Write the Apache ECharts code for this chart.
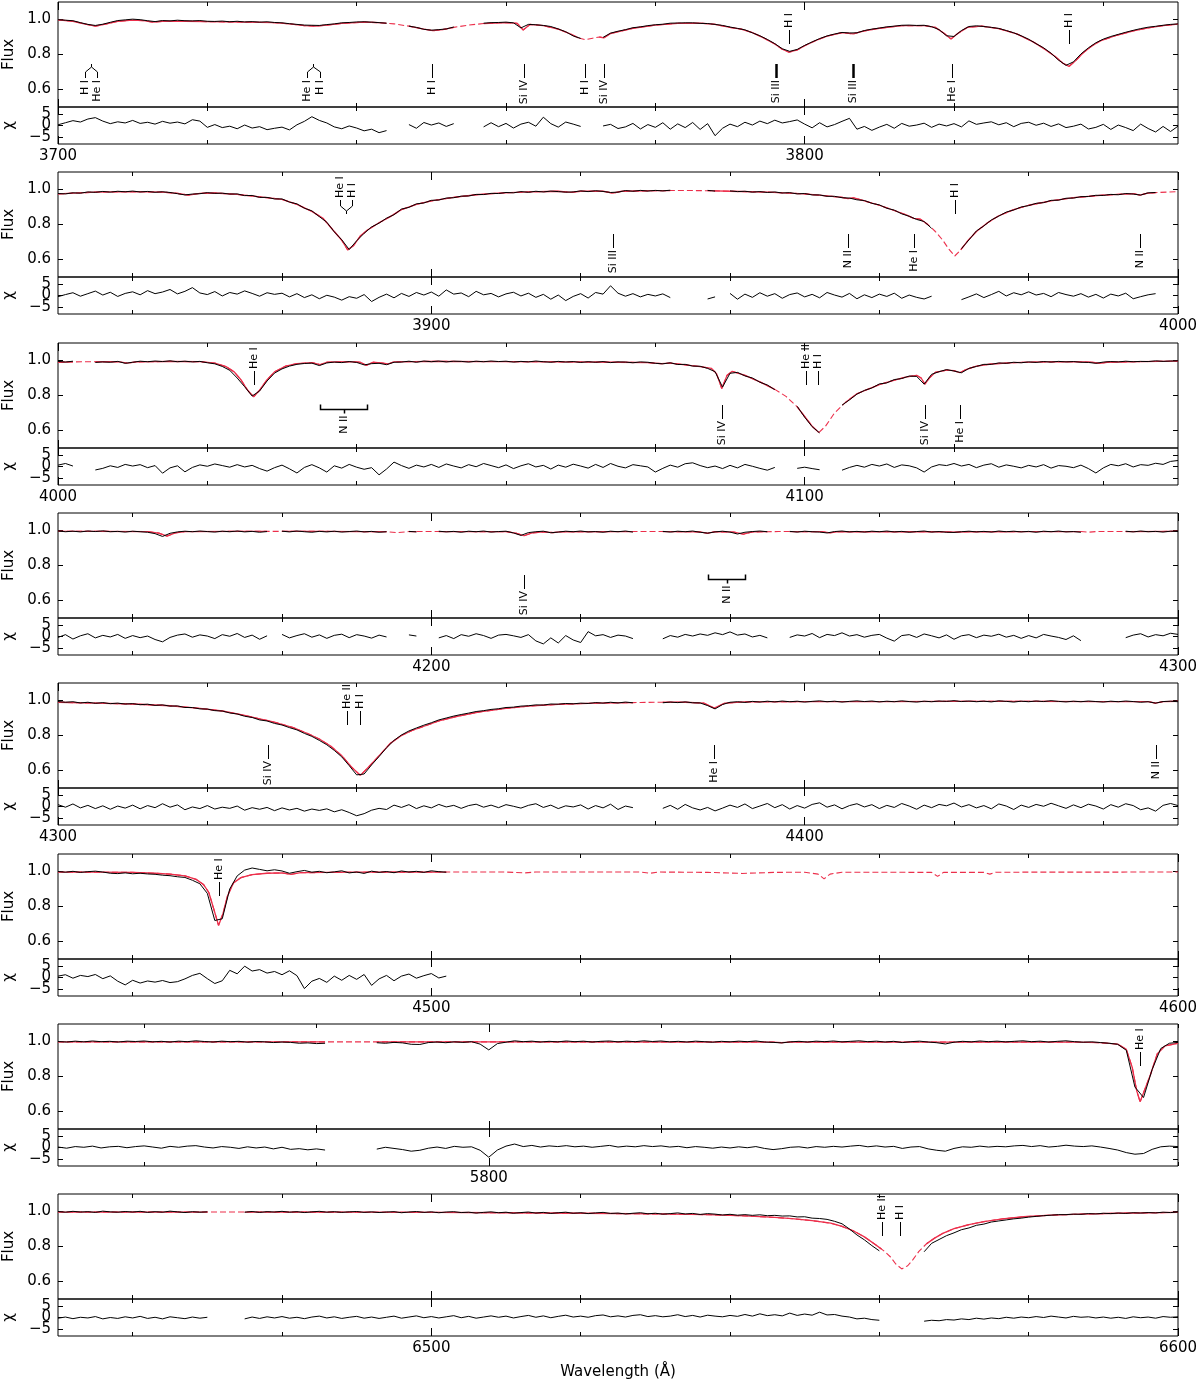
<!DOCTYPE html>
<html>
<head>
<meta charset="UTF-8">
<title>Spectrum fit</title>
<script src="https://cdn.jsdelivr.net/npm/echarts@6/dist/echarts.min.js"></script>
<style>
  body { margin: 0; background: #fff; }
  #chart { width: 1200px; height: 1389px; }
</style>
</head>
<body>
<div id="chart"></div>
<script>
// wavelength range of each panel (Å)
var rangeP = [[3700,3850],[3850,4000],[4000,4150],[4150,4300],[4300,4450],[4450,4600],[5750,5880],[6450,6600]];

// model fit, [wavelength, flux]
var modelP1 = [[3700,0.998],[3702,0.99],[3703.5,0.975],[3705,0.962],[3706.5,0.975],[3708,0.99],[3710,0.996],[3711.5,0.993],[3712.7,0.985],[3714,0.99],[3717,0.99],[3720,0.988],[3725,0.985],[3729,0.982],[3731,0.975],[3733,0.965],[3734.5,0.962],[3736,0.968],[3738,0.978],[3741,0.985],[3743,0.982],[3744,0.978],[3745,0.975],[3747,0.962],[3749,0.945],[3750.2,0.936],[3751.5,0.942],[3753,0.955],[3755,0.968],[3757,0.977],[3760,0.982],[3761.5,0.978],[3762.3,0.94],[3763.2,0.972],[3765,0.965],[3767,0.945],[3768.5,0.92],[3769.7,0.895],[3770.6,0.885],[3771.6,0.893],[3772.5,0.9],[3773.1,0.895],[3774,0.92],[3775.5,0.935],[3777,0.95],[3780,0.968],[3783,0.978],[3786,0.979],[3788,0.972],[3790,0.955],[3791.5,0.945],[3793,0.925],[3794.5,0.895],[3796,0.86],[3797,0.83],[3797.9,0.813],[3799,0.826],[3800,0.85],[3801.5,0.88],[3803,0.905],[3805,0.925],[3806.5,0.918],[3808,0.935],[3810,0.95],[3813,0.965],[3816,0.965],[3817.5,0.955],[3818.7,0.92],[3819.6,0.889],[3820.5,0.92],[3821.8,0.955],[3823.7,0.962],[3826,0.948],[3828.4,0.918],[3830.6,0.872],[3832,0.835],[3833.5,0.79],[3834.6,0.75],[3835.4,0.732],[3836.3,0.765],[3837.3,0.81],[3838.5,0.85],[3839.6,0.878],[3841.8,0.91],[3844,0.935],[3846.2,0.953],[3848,0.965],[3850,0.973]];
var modelP2 = [[3850,0.975],[3855,0.985],[3860,0.988],[3864,0.985],[3866,0.978],[3867.5,0.968],[3869,0.978],[3871,0.98],[3874,0.972],[3877,0.958],[3880,0.944],[3882,0.915],[3884,0.875],[3885.5,0.835],[3887,0.76],[3888,0.71],[3888.8,0.655],[3889.6,0.68],[3890.5,0.735],[3891.5,0.77],[3893,0.81],[3894.5,0.845],[3896,0.885],[3898,0.915],[3900,0.935],[3903,0.955],[3906,0.97],[3909,0.979],[3913,0.986],[3917,0.99],[3918.7,0.983],[3920,0.99],[3923,0.99],[3924.3,0.979],[3925.5,0.99],[3930,0.993],[3932,0.994],[3935,0.994],[3937,0.993],[3938,0.992],[3940,0.99],[3945,0.985],[3950,0.975],[3953,0.963],[3955,0.955],[3955.8,0.948],[3956.6,0.952],[3958,0.935],[3960,0.91],[3962,0.88],[3963.6,0.855],[3964.6,0.835],[3965.5,0.83],[3966.5,0.8],[3967.5,0.76],[3968.5,0.71],[3969.3,0.66],[3970.1,0.62],[3970.9,0.655],[3971.8,0.705],[3973,0.76],[3974.5,0.81],[3976,0.85],[3978,0.885],[3980,0.91],[3983,0.935],[3986,0.953],[3990,0.968],[3994,0.977],[3994.9,0.968],[3995.8,0.978],[3997,0.982],[4000,0.988]];
var modelP3 = [[4000,0.99],[4002,0.992],[4004,0.993],[4005,0.993],[4008,0.993],[4009.3,0.985],[4010.5,0.992],[4015,0.995],[4019,0.993],[4021,0.985],[4022.5,0.965],[4023.6,0.935],[4024.5,0.89],[4025.4,0.83],[4026.2,0.793],[4027,0.83],[4028,0.89],[4029,0.935],[4030.5,0.968],[4032,0.982],[4034,0.988],[4035.1,0.976],[4036,0.99],[4039,0.993],[4040.5,0.99],[4041.3,0.972],[4042.2,0.99],[4043.5,0.985],[4044.2,0.98],[4045,0.992],[4050,0.995],[4060,0.994],[4068,0.992],[4075,0.99],[4079,0.988],[4080.8,0.982],[4082,0.985],[4084,0.975],[4086,0.965],[4087.5,0.955],[4088.2,0.925],[4088.9,0.84],[4089.6,0.915],[4090.3,0.938],[4092,0.915],[4094,0.878],[4096,0.835],[4097.5,0.795],[4099,0.735],[4100,0.68],[4101,0.625],[4101.9,0.588],[4102.8,0.625],[4104,0.7],[4105.5,0.762],[4107,0.81],[4108.6,0.838],[4110,0.862],[4111.7,0.884],[4113.5,0.905],[4115,0.915],[4115.6,0.9],[4116.1,0.865],[4116.7,0.9],[4117.5,0.932],[4119,0.945],[4120,0.942],[4120.8,0.93],[4121.6,0.948],[4123,0.968],[4125,0.98],[4128,0.988],[4132,0.992],[4136,0.993],[4138.5,0.99],[4139.5,0.984],[4140.5,0.99],[4145,0.994],[4150,0.996]];
var modelP4 = [[4150,0.995],[4155,0.995],[4162,0.994],[4163.5,0.985],[4164.6,0.968],[4165.7,0.986],[4167,0.994],[4175,0.995],[4178,0.995],[4179,0.995],[4180,0.995],[4185,0.995],[4190,0.994],[4194,0.993],[4195.5,0.988],[4197,0.994],[4198,0.994],[4200,0.994],[4201,0.994],[4205,0.994],[4210,0.993],[4211.3,0.985],[4212.4,0.97],[4213.5,0.986],[4215,0.992],[4216.3,0.988],[4217.5,0.993],[4225,0.994],[4227,0.994],[4229,0.994],[4231,0.994],[4232,0.994],[4236,0.992],[4237,0.984],[4238,0.993],[4240.5,0.991],[4241.8,0.979],[4243,0.992],[4245,0.993],[4246.5,0.994],[4248,0.994],[4252.3,0.993],[4253.4,0.987],[4254.5,0.993],[4260,0.994],[4268,0.993],[4270,0.99],[4272,0.993],[4280,0.994],[4287,0.994],[4288,0.99],[4289,0.994],[4293,0.994],[4300,0.995]];
var modelP5 = [[4300,0.99],[4305,0.985],[4310,0.98],[4315,0.97],[4319,0.955],[4322,0.94],[4325,0.915],[4327,0.895],[4328.1,0.885],[4329.5,0.87],[4331.5,0.845],[4333.5,0.81],[4335,0.78],[4336.5,0.74],[4338,0.685],[4339.3,0.62],[4340.5,0.572],[4341.6,0.62],[4342.8,0.675],[4344.5,0.755],[4346,0.8],[4347.5,0.83],[4349.5,0.86],[4351,0.883],[4353.5,0.91],[4356.5,0.935],[4360,0.955],[4363,0.968],[4367,0.978],[4372,0.985],[4377,0.988],[4378,0.989],[4381,0.99],[4384,0.99],[4386.5,0.985],[4387.9,0.956],[4389.3,0.985],[4392,0.992],[4400,0.994],[4410,0.994],[4420,0.995],[4430,0.995],[4440,0.994],[4446,0.994],[4447,0.985],[4448,0.994],[4450,0.995]];
var modelP6 = [[4450,0.997],[4455,0.996],[4460,0.995],[4463,0.99],[4465,0.985],[4467,0.975],[4468.5,0.955],[4469.5,0.925],[4470.2,0.88],[4470.9,0.78],[4471.5,0.692],[4472.1,0.76],[4472.7,0.86],[4473.5,0.935],[4474.5,0.965],[4476,0.982],[4478,0.99],[4480,0.992],[4481.2,0.984],[4482.5,0.993],[4490,0.996],[4500,0.997],[4502,0.997],[4510,0.997],[4512.5,0.992],[4514,0.997],[4528,0.997],[4529.3,0.99],[4530.5,0.997],[4537,0.995],[4541.6,0.989],[4546,0.995],[4550,0.996],[4551.8,0.985],[4552.6,0.958],[4553.4,0.985],[4555,0.996],[4567,0.995],[4567.8,0.972],[4568.6,0.995],[4574,0.995],[4574.8,0.985],[4575.6,0.996],[4600,0.997]];
var modelP7 = [[5750,0.998],[5781,0.998],[5784,0.998],[5787,0.998],[5800,0.998],[5833,0.997],[5834,0.993],[5835,0.997],[5868,0.997],[5871,0.993],[5873,0.985],[5874,0.955],[5874.7,0.85],[5875.2,0.72],[5875.6,0.655],[5876.1,0.72],[5876.8,0.81],[5877.6,0.93],[5878.5,0.975],[5880,0.99]];
var modelP8 = [[6450,0.997],[6470,0.997],[6472,0.997],[6475,0.997],[6490,0.996],[6500,0.995],[6510,0.993],[6520,0.99],[6530,0.986],[6537,0.982],[6542,0.975],[6546,0.966],[6548.3,0.959],[6551,0.948],[6553.5,0.933],[6555,0.915],[6556.5,0.89],[6558,0.855],[6559.5,0.81],[6560.3,0.785],[6560.7,0.772],[6561.5,0.74],[6562.2,0.7],[6563,0.672],[6563.8,0.69],[6564.5,0.725],[6565.3,0.772],[6566.3,0.815],[6567.4,0.848],[6568.5,0.875],[6570,0.902],[6572,0.925],[6574,0.942],[6576.5,0.958],[6579.3,0.97],[6583,0.979],[6587,0.985],[6592,0.99],[6600,0.995]];

// observed flux, one value per Å from the panel start (null = masked)
var obsP1 = [0.999,0.996,0.993,0.982,0.972,0.966,0.973,0.984,0.994,0.998,
1.002,0.999,0.993,0.988,0.994,0.992,0.996,0.993,0.992,0.994,
0.99,0.989,0.991,0.987,0.99,0.986,0.988,0.985,0.987,0.983,
0.981,0.976,0.972,0.968,0.967,0.966,0.971,0.975,0.981,0.983,
0.986,0.987,0.985,0.982,0.979,null,null,0.962,0.955,0.944,
0.939,0.942,0.946,0.957,null,null,null,0.979,0.982,0.983,
0.985,0.981,0.952,0.972,0.97,0.966,0.96,0.946,0.93,0.906,
0.892,null,null,0.898,0.922,0.933,0.942,0.953,0.958,0.965,
0.97,0.973,0.979,0.98,0.981,0.981,0.978,0.977,0.972,0.966,
0.957,0.949,0.941,0.924,0.907,0.886,0.862,0.833,0.818,0.829,
0.852,0.872,0.891,0.906,0.917,0.926,0.923,0.924,0.937,0.945,
0.951,0.958,0.962,0.967,0.968,0.966,0.967,0.959,0.942,0.907,
0.903,0.937,0.96,0.964,0.96,0.955,0.949,0.937,0.924,0.907,
0.887,0.862,0.838,0.807,0.768,0.738,0.758,0.803,0.838,0.867,
0.888,0.903,0.915,0.927,0.938,0.948,0.956,0.961,0.967,0.972,
0.975];
var obsP2 = [0.977,0.975,0.981,0.979,0.986,0.984,0.989,0.985,0.99,0.987,
0.991,0.986,0.989,0.984,0.987,0.983,0.976,0.969,0.974,0.976,
0.982,0.978,0.979,0.974,0.975,0.965,0.966,0.955,0.955,0.946,
0.946,0.928,0.918,0.893,0.878,0.845,0.813,0.758,0.713,0.657,
0.707,0.75,0.786,0.808,0.836,0.856,0.888,0.898,0.918,0.923,
0.938,0.94,0.951,0.953,0.962,0.963,0.972,0.971,0.978,0.977,
0.983,0.981,0.988,0.984,0.99,0.986,0.991,0.988,0.985,0.986,
0.992,0.988,0.993,0.989,0.983,0.985,0.994,0.99,0.995,0.991,
0.995,0.992,0.996,null,null,null,null,0.995,0.991,null,
0.992,0.988,0.99,0.985,0.988,0.983,0.986,0.98,0.982,0.975,
0.977,0.969,0.969,0.961,0.961,0.953,0.951,0.941,0.937,0.921,
0.912,0.893,0.882,0.861,0.847,0.829,0.817,0.778,null,null,
null,0.662,0.712,0.763,0.792,0.826,0.848,0.871,0.883,0.9,
0.908,0.921,0.925,0.938,0.939,0.95,0.951,0.959,0.96,0.967,
0.966,0.972,0.97,0.977,0.974,0.968,0.981,0.983,null,null,
null];
var obsP3 = [0.995,0.991,0.996,null,null,0.989,0.992,0.99,0.995,0.984,
0.99,0.996,0.993,0.997,0.994,0.998,0.993,0.996,0.992,0.995,
0.987,0.981,0.966,0.944,0.9,0.85,0.797,0.826,0.883,0.928,
0.952,0.968,0.978,0.983,0.985,0.971,0.986,0.991,0.988,0.994,
0.989,0.975,0.982,0.984,0.976,0.99,0.991,0.996,0.99,0.997,
0.993,0.997,0.992,0.996,0.995,0.991,0.996,0.993,0.997,0.994,
0.996,0.991,0.995,0.992,0.997,0.993,0.99,0.995,0.991,0.994,
0.989,0.993,0.99,0.994,0.988,0.992,0.991,0.987,0.992,0.99,
0.984,0.981,0.987,0.977,0.978,0.968,0.967,0.955,0.936,0.848,
0.927,0.932,0.912,0.9,0.876,0.86,0.833,null,null,0.738,
0.676,0.622,0.586,null,null,0.745,0.775,0.808,0.829,0.843,
0.866,0.872,0.891,0.897,0.911,0.909,0.865,0.921,0.936,0.948,
0.94,0.93,0.955,0.966,0.978,0.978,0.986,0.984,0.99,0.987,
0.992,0.989,0.994,0.991,0.995,0.992,0.994,0.99,0.989,0.984,
0.991,0.994,0.992,0.996,0.993,0.995,0.994,0.998,0.995,0.997,
0.998];
var obsP4 = [0.997,0.993,0.996,0.992,0.997,0.994,0.998,0.993,0.995,0.991,
0.996,0.993,0.99,0.982,0.966,0.984,0.992,0.996,0.993,0.997,
0.994,0.991,0.996,0.993,0.997,0.992,0.995,0.99,0.994,null,
0.996,0.992,0.997,0.993,0.99,0.995,0.992,0.996,0.991,0.994,
0.997,0.992,0.995,0.99,0.993,null,null,0.995,0.992,null,
null,0.996,0.992,0.995,0.99,0.996,0.993,0.997,0.991,0.994,
0.996,0.986,0.972,0.988,0.993,0.996,0.987,0.991,0.996,0.993,
0.997,0.992,0.994,0.99,0.996,0.993,0.997,0.991,null,null,
null,0.995,0.991,0.996,0.993,0.997,0.99,0.985,0.992,0.996,
0.991,0.98,0.99,0.994,0.997,0.993,null,null,0.995,0.991,
0.996,0.993,0.991,0.986,0.994,0.997,0.992,0.995,0.991,0.996,
0.993,0.997,0.992,0.995,0.99,0.994,0.997,0.991,0.994,0.99,
0.989,0.993,0.996,0.992,0.995,0.991,0.997,0.993,0.996,0.992,
0.995,0.99,0.996,0.993,0.997,0.992,0.994,0.99,null,null,
null,null,null,0.996,0.992,0.997,0.993,0.995,0.991,0.996,
0.994];
var obsP5 = [0.994,0.99,0.993,0.986,0.99,0.984,0.988,0.982,0.985,0.98,
0.982,0.976,0.979,0.972,0.975,0.968,0.969,0.96,0.96,0.952,
0.951,0.942,0.94,0.929,0.923,0.91,0.903,0.889,0.883,0.869,
0.86,0.845,0.832,0.812,0.795,0.772,0.747,0.715,0.678,0.628,
0.575,0.58,0.632,0.68,0.73,0.772,0.803,0.826,0.843,0.859,
0.873,0.889,0.9,0.911,0.92,0.928,0.937,0.942,0.949,0.953,
0.96,0.962,0.968,0.97,0.975,0.974,0.98,0.979,0.983,0.981,
0.985,0.983,0.988,0.985,0.99,0.986,0.991,0.987,null,null,
null,0.987,0.991,0.988,0.992,0.987,0.986,0.971,0.952,0.977,
0.99,0.993,0.989,0.995,0.991,0.996,0.992,0.997,0.993,0.996,
0.991,0.995,0.998,0.993,0.996,0.991,0.995,0.998,0.994,0.997,
0.992,0.996,0.993,0.998,0.994,0.991,0.996,0.993,0.997,0.995,
0.999,0.994,0.997,0.993,0.996,0.992,0.998,0.995,0.991,0.996,
0.993,0.997,0.994,0.999,0.995,0.992,0.996,0.993,0.997,0.994,
0.991,0.996,0.993,0.997,0.994,0.99,0.993,0.985,0.994,0.996,
0.993];
var obsP6 = [1.0,0.996,1.001,0.995,0.999,1.002,0.997,0.99,0.988,0.992,
0.987,0.99,0.986,0.984,0.979,0.976,0.97,0.966,0.95,0.93,
0.875,0.72,0.73,0.9,0.975,1.008,1.02,1.012,1.004,1.01,
1.003,0.99,0.999,1.006,0.996,1.001,0.993,0.998,1.004,0.992,
0.997,0.989,1.002,0.995,1.0,0.993,1.003,0.997,1.001,0.995,
1.004,0.999,0.996];
var obsP7 = [1.0,0.997,1.002,0.998,1.003,0.999,1.001,0.997,1.002,1.0,
1.003,0.998,1.001,0.997,1.002,0.999,1.004,1.0,0.997,1.002,
0.999,1.001,0.996,1.0,0.998,0.994,0.997,0.995,0.99,0.992,
0.988,0.99,null,null,null,null,null,0.993,0.99,0.995,
0.992,0.984,0.983,0.994,0.997,0.993,0.998,0.995,0.999,0.985,
0.952,0.988,0.996,1.004,0.999,1.002,0.997,1.001,0.998,1.003,
0.999,1.002,0.997,1.001,1.003,0.998,1.002,0.999,1.004,1.0,
1.003,0.998,1.001,0.997,1.002,0.999,0.996,1.001,0.998,1.002,
0.999,1.003,0.997,0.995,0.992,0.998,1.001,0.997,1.002,0.999,
1.003,0.998,1.001,1.004,0.999,1.002,0.997,1.001,0.994,0.999,
1.002,0.997,0.993,0.986,0.996,1.001,0.998,1.003,0.999,1.002,
0.998,1.001,1.004,0.999,1.002,0.997,1.001,1.004,0.999,0.996,
0.998,0.994,0.99,0.984,0.95,0.74,0.68,0.84,0.96,0.99,
0.995];
var obsP8 = [1.0,0.996,1.001,0.997,0.999,0.995,1.002,0.998,0.996,1.0,
0.997,1.001,0.995,0.999,0.996,1.002,0.998,0.994,0.999,0.996,
0.998,null,null,null,null,0.996,1.0,0.995,0.999,0.997,
1.001,0.996,0.999,0.994,0.998,1.001,0.996,0.999,0.995,0.998,
1.0,0.995,0.998,0.994,0.997,0.999,0.993,0.997,1.0,0.995,
0.998,0.993,0.997,0.999,0.994,0.996,0.991,0.995,0.998,0.993,
0.996,0.99,0.994,0.997,0.991,0.995,0.989,0.993,0.996,0.99,
0.993,0.988,0.992,0.995,0.989,0.991,0.986,0.99,0.993,0.987,
0.99,0.985,0.988,0.992,0.986,0.989,0.983,0.988,0.985,0.98,
0.984,0.979,0.982,0.978,0.981,0.976,0.978,0.974,0.975,0.969,
0.97,0.962,0.96,0.955,0.944,0.93,0.9,0.866,0.838,0.805,
0.775,null,null,null,null,null,0.77,0.818,0.84,0.862,
0.878,0.896,0.906,0.921,0.928,0.94,0.946,0.952,0.958,0.962,
0.968,0.972,0.976,0.979,0.982,0.982,0.985,0.984,0.988,0.986,
0.99,0.988,0.991,0.989,0.993,0.991,0.994,0.992,0.996,0.994,
0.997];

// residuals chi, one value per Å from the panel start
var chiP1 = [0.3,1.2,2.1,1.5,2.8,3.4,1.9,0.8,1.6,1.1,
2.2,0.9,1.4,0.6,1.8,1.0,1.5,0.7,2.5,1.9,
-0.8,0.4,-0.9,-0.3,-1.4,0.2,-1.1,-0.5,-1.8,-1.2,
-0.7,-1.9,0.3,1.8,3.8,2.2,1.1,-0.6,-1.4,-0.2,
-1.1,-2.3,-1.6,-3.1,-2.2,null,null,0.4,-1.2,1.3,
0.2,1.1,-0.4,0.8,null,null,null,-0.6,1.2,-0.5,
0.9,-1.1,0.6,1.4,-0.3,3.6,0.8,-0.7,1.5,0.6,
-0.4,null,null,-0.2,0.5,-1.3,-0.6,0.9,-1.5,0.4,
-0.8,1.2,-1.6,0.7,-0.9,1.3,-1.7,0.8,-4.4,-1.2,
0.6,-0.5,1.4,0.2,1.9,0.8,2.3,1.1,1.7,2.4,
0.6,-1.0,1.2,-0.6,0.4,1.8,3.1,-1.6,-0.4,-2.1,
-0.7,0.5,-1.2,0.9,-0.3,0.2,1.0,-0.8,0.6,-0.2,
0.8,-0.6,2.0,0.5,1.1,1.6,0.3,1.2,-0.5,0.9,
1.4,0.1,1.0,-0.4,0.7,-0.9,-0.3,0.6,-1.5,-0.8,
0.5,-1.7,0.2,-0.9,-2.2,0.6,-1.3,-2.8,-0.4,-2.6,
-0.3];
var chiP2 = [-0.5,0.4,1.2,-0.3,0.8,1.9,0.2,1.4,-0.4,0.9,
1.6,0.3,2.1,0.8,1.5,2.6,0.7,1.8,3.4,1.1,
0.4,1.7,-0.2,1.3,0.6,2.0,0.9,-0.3,1.2,0.5,
1.0,-0.6,0.8,-0.9,0.3,-1.4,0.1,-0.7,-2.0,-0.5,
-1.2,0.4,-2.6,-0.8,0.6,-1.0,0.9,-0.4,1.3,0.2,
1.5,-0.3,2.4,0.6,1.1,-0.5,1.8,0.3,0.9,-0.6,
0.7,1.4,-0.2,1.0,-0.8,0.5,-1.6,0.2,-2.2,-0.4,
0.8,-1.1,1.3,0.6,4.2,1.0,-0.3,0.8,-0.6,0.5,
-0.2,0.7,-0.9,null,null,null,null,-1.5,-0.6,null,
0.9,-1.6,0.6,-0.8,1.2,-0.3,0.8,-1.2,0.4,1.1,
-0.6,0.5,-1.0,1.3,0.2,-0.7,0.9,-1.4,0.3,-0.9,
0.6,-0.4,1.0,-1.2,0.2,-0.8,-1.5,-0.3,null,null,
null,-1.8,-0.6,0.7,-0.9,0.4,1.8,-0.2,1.2,0.3,
1.6,0.2,0.9,-0.5,1.3,0.4,-0.3,0.8,-0.7,0.5,
-1.1,0.6,-0.2,1.0,-1.4,-0.5,0.3,0.8,null,null,
null];
var chiP3 = [0.6,1.3,0.2,null,null,-1.5,-0.8,0.3,-0.4,0.9,
0.2,0.8,-0.5,0.4,-2.9,-0.6,0.3,-2.3,-0.4,0.7,
0.1,1.1,0.4,-0.3,0.8,-0.2,0.5,-0.9,-2.0,-0.5,
0.6,-1.0,-2.8,-0.4,0.8,-0.6,-2.4,0.3,-0.7,0.9,
-0.3,-1.2,-0.5,-3.6,-1.1,1.9,0.4,-0.8,0.6,-0.2,
0.9,-0.4,1.1,0.2,-0.6,0.8,-0.1,1.3,0.4,-0.5,
0.7,-0.9,0.3,1.2,-0.2,0.5,-1.1,0.6,-0.3,1.0,
0.2,-0.7,0.9,-0.4,1.3,0.1,-0.6,0.8,0.3,-0.2,
-2.4,-0.8,0.6,-0.3,1.2,1.6,0.4,-0.5,0.2,-0.9,
0.5,-0.6,0.9,0.1,-0.8,-1.6,-0.4,null,null,-0.8,
-0.3,-0.9,-1.4,null,null,-1.6,-0.4,0.5,-0.3,0.9,
0.2,1.1,-0.4,0.7,0.3,-0.6,-2.4,-0.2,0.8,0.4,
1.3,0.2,0.9,-0.5,0.6,1.2,-0.3,0.7,0.1,-0.6,
0.5,-0.2,0.8,-0.7,0.4,0.1,-0.5,0.6,-0.9,-2.8,
-0.6,0.9,0.3,1.2,-0.2,0.8,0.5,1.4,0.9,2.2,
2.6];
var chiP4 = [-0.4,0.8,-1.1,0.3,1.2,-0.6,0.5,-0.2,0.9,-0.8,
0.4,-0.5,0.2,-1.3,-2.3,-0.4,0.6,1.1,-0.3,0.7,
0.2,-0.9,0.8,0.1,1.3,-0.4,0.6,-1.2,0.3,null,
0.9,-0.6,0.4,1.2,-0.3,0.7,-0.8,0.5,1.0,-0.5,
0.8,0.2,-0.7,0.6,-0.2,null,null,0.7,0.2,null,
null,-0.6,0.4,-0.9,0.8,0.1,1.2,0.4,-0.8,0.6,
0.9,0.3,-0.4,0.8,-1.9,-3.2,-0.6,-2.8,0.4,-1.5,
-2.6,2.1,0.3,0.8,-0.4,0.6,0.2,-0.9,null,null,
null,-1.0,0.4,-0.3,0.9,0.2,1.1,0.5,1.6,0.8,
2.0,0.6,1.1,-0.2,0.5,-0.6,null,null,-0.4,0.7,
0.2,1.3,-0.5,0.9,0.4,1.6,0.2,0.8,-0.3,0.5,
0.9,-0.7,-2.0,0.4,0.8,-0.4,1.1,0.3,-0.6,0.7,
-1.2,0.3,0.8,-0.5,0.6,0.1,1.0,-0.3,0.5,-0.8,
0.4,-0.6,0.9,0.2,-0.4,-1.3,0.3,-1.8,null,null,
null,null,null,-0.5,0.6,1.2,-0.2,0.8,0.3,1.4,
0.9];
var chiP5 = [0.8,-0.3,1.1,-0.6,0.5,-0.9,0.3,-1.2,0.2,-0.7,
0.6,-1.0,0.4,-0.5,1.2,-0.3,0.7,-1.4,-0.2,-0.9,
0.4,-1.1,-0.3,-0.8,0.2,-1.6,-0.5,-1.2,-0.4,-1.8,
-0.6,-1.5,-0.8,-2.0,-1.1,-1.7,-1.0,-2.3,-1.4,-2.6,
-4.0,-3.1,-1.6,-0.8,-1.3,0.6,-0.4,0.8,-0.9,0.3,
-0.6,0.9,-0.2,0.5,-0.8,0.4,1.0,-0.3,0.6,-0.5,
0.8,0.1,-0.7,0.5,1.2,-0.4,0.6,-0.9,0.3,-0.2,
0.7,-1.1,0.4,-0.6,1.0,-1.3,0.2,-0.5,null,null,
null,-0.8,0.5,-1.2,0.9,-0.6,-1.5,-0.4,-1.9,-0.7,
0.6,-0.4,1.1,-0.9,0.2,1.3,-0.5,0.8,-1.1,0.4,
-0.7,0.9,1.6,-0.3,0.7,-1.0,0.4,1.2,-0.2,0.8,
-0.9,0.5,-0.4,1.3,0.2,-1.2,0.6,-0.5,0.9,0.3,
1.5,-0.2,0.8,-0.6,0.4,-1.0,1.1,0.2,-1.3,0.6,
-0.4,0.9,0.1,1.4,0.3,-0.8,0.7,-0.5,1.0,0.2,
-1.1,0.8,-0.3,1.2,0.4,-1.4,-0.6,-2.0,0.5,1.3,
0.4];
var chiP6 = [0.6,1.2,-0.3,0.9,0.4,1.3,-0.5,0.7,-1.6,-3.2,
-1.2,-2.4,-1.5,-2.0,-1.3,-2.2,-1.8,-0.6,0.9,1.8,
-0.5,-2.6,-1.4,3.1,1.6,4.9,2.8,3.4,1.9,2.6,
1.2,2.9,0.8,-4.8,-1.6,-0.4,-2.1,0.6,-1.2,0.9,
-0.8,1.3,-3.4,-0.6,0.9,-1.4,0.6,1.5,-0.3,0.8,
1.7,-0.2,0.6];
var chiP7 = [0.2,-0.3,0.4,0.1,0.6,-0.2,0.3,0.5,-0.1,0.4,
0.7,0.2,-0.3,0.5,0.1,0.6,0.8,0.2,-0.2,0.4,
0.1,-0.4,0.3,-0.2,0.2,-0.6,0.1,-0.8,-0.5,-1.0,
-0.6,-1.1,null,null,null,null,null,-0.7,0.1,-0.4,
-0.9,-1.6,-1.2,-0.3,0.2,-0.4,0.5,0.1,0.3,-1.2,
-4.2,-1.1,0.6,1.5,0.4,0.9,0.2,0.7,0.4,0.8,
0.3,0.6,0.1,0.5,0.9,0.2,0.6,0.3,0.8,0.4,
0.7,0.2,0.5,-0.1,0.4,0.1,-0.3,0.2,-0.2,0.3,
-0.1,0.4,-0.4,-0.9,-0.5,0.1,0.3,-0.2,0.4,0.1,
0.5,0.2,0.6,0.9,0.3,0.7,0.2,0.5,-0.4,0.2,
0.4,-0.6,-1.2,-1.6,-0.4,0.3,0.1,0.6,0.2,0.5,
0.3,0.7,0.9,0.4,0.8,0.2,0.5,1.0,0.6,0.4,
0.7,0.2,-0.4,-1.1,-2.2,-2.9,-2.6,-0.8,0.3,0.6,
0.4];
var chiP8 = [-0.3,0.2,-0.5,0.1,-0.2,0.4,-0.6,0.0,-0.4,0.3,
-0.2,0.5,-0.4,0.1,-0.6,0.3,-0.1,-0.5,0.2,-0.3,
0.1,null,null,null,null,-0.6,0.2,-0.4,0.3,-0.2,
0.4,-0.3,0.1,-0.5,0.2,0.6,-0.2,0.3,-0.4,0.1,
0.5,-0.3,0.2,-0.4,0.1,0.6,-0.3,0.2,0.7,-0.1,
0.4,-0.2,0.3,0.8,-0.1,0.5,-0.3,0.2,0.7,0.1,
0.6,-0.2,0.4,0.9,0.1,0.7,-0.1,0.5,1.0,0.2,
0.6,0.1,0.8,1.1,0.3,0.7,0.2,0.9,1.2,0.4,
0.8,0.3,0.6,1.2,0.4,0.9,0.2,1.0,0.6,0.3,
0.9,0.5,1.3,0.6,1.6,0.8,1.2,0.7,1.9,0.9,
1.5,1.0,2.3,1.1,1.3,0.6,0.2,-0.6,-0.3,-0.9,
-1.2,null,null,null,null,null,-1.6,-1.2,-1.4,-0.9,
-1.1,-0.6,-0.9,-0.3,-0.7,-0.2,-0.5,0.1,-0.3,0.2,
-0.1,0.4,0.0,0.6,0.2,-0.2,0.5,0.1,0.3,-0.2,
0.2,-0.3,0.1,-0.4,0.3,-0.1,0.2,-0.3,0.4,0.1,
0.3];

// line identifications: [wavelength, label, 'b' below / 't' above, joined-to wavelength, heavy mark]
var idsP1 = [[3703.6,'H I','b',3704.4],[3705.2,'He I','b',3704.4],[3733.3,'He I','b',3734.2],[3735.1,'H I','b',3734.2],
  [3750.1,'H I','b'],[3762.4,'Si IV','b'],[3770.6,'H I','b'],[3773.1,'Si IV','b'],[3796.2,'Si III','b',null,1],
  [3806.5,'Si III','b',null,1],[3819.7,'He I','b'],[3797.9,'H I','t'],[3835.4,'H I','t']];
var idsP2 = [[3887.8,'He I','t',3888.6],[3889.4,'H I','t',3888.6],[3970.1,'H I','t'],[3924.3,'Si III','b'],
  [3955.8,'N II','b'],[3964.6,'He I','b'],[3994.9,'N II','b']];
var idsP3 = [[4026.2,'He I','t'],[4088.9,'Si IV','b'],[4100.2,'He II','t'],[4101.8,'H I','t'],[4116.1,'Si IV','b'],[4120.8,'He I','b']];
var idsP4 = [[4212.4,'Si IV','b']];
var idsP5 = [[4328.1,'Si IV','b'],[4338.7,'He II','t'],[4340.5,'H I','t'],[4387.9,'He I','b'],[4447.0,'N II','b']];
var idsP6 = [[4471.5,'He I','t']];
var idsP7 = [[5875.6,'He I','t']];
var idsP8 = [[6560.3,'He II','t'],[6562.8,'H I','t']];
// blends marked with a bracket: [from, to, label]
var bracketP3 = [[4035.1,4041.4,'N II']];
var bracketP4 = [[4237.0,4242.0,'N II']];

(function () {
  var models = [modelP1,modelP2,modelP3,modelP4,modelP5,modelP6,modelP7,modelP8];
  var obss = [obsP1,obsP2,obsP3,obsP4,obsP5,obsP6,obsP7,obsP8];
  var chis = [chiP1,chiP2,chiP3,chiP4,chiP5,chiP6,chiP7,chiP8];
  var idss = [idsP1,idsP2,idsP3,idsP4,idsP5,idsP6,idsP7,idsP8];
  var brackets = [[],[],bracketP3,bracketP4,[],[],[],[]];

  var FONT = 'DejaVu Sans';
  var RED = '#ec2f4b';

  function ticksFrom(min, max, step) {
    var out = [];
    for (var v = Math.ceil(min / step) * step; v <= max + 1e-9; v += step) out.push(v);
    return out;
  }

  function xAxisFor(g, r, pos, vals, len, withLabels, nameOpt) {
    var ax = {
      type: 'value', gridIndex: g, min: r[0], max: r[1], position: pos,
      axisLine: { show: false, onZero: false },
      axisTick: { show: true, inside: true, length: len, customValues: vals, lineStyle: { color: '#000', width: 1 } },
      axisLabel: { show: false },
      splitLine: { show: false }
    };
    if (withLabels) {
      ax.axisLabel = { show: true, customValues: vals, fontSize: 15, fontFamily: FONT, color: '#000', margin: 5,
        showMinLabel: true, showMaxLabel: true, hideOverlap: false, formatter: function (v) { return String(v); } };
    }
    if (nameOpt) {
      ax.name = nameOpt; ax.nameLocation = 'middle'; ax.nameGap = 29;
      ax.nameTextStyle = { fontSize: 15, fontFamily: FONT, color: '#000' };
    }
    return ax;
  }

  function yAxisFor(g, pos, min, max, tickVals, labelVals, fmt, nameOpt) {
    var ax = {
      type: 'value', gridIndex: g, min: min, max: max, position: pos,
      axisLine: { show: false, onZero: false },
      axisTick: tickVals ? { show: true, inside: true, length: 5, customValues: tickVals, lineStyle: { color: '#000', width: 1 } } : { show: false },
      axisLabel: { show: false },
      splitLine: { show: false }
    };
    if (labelVals) {
      ax.axisLabel = { show: true, customValues: labelVals, fontSize: 15, fontFamily: FONT, color: '#000', margin: 7,
        formatter: fmt, showMinLabel: true, showMaxLabel: true, hideOverlap: false };
    }
    if (nameOpt) {
      ax.name = nameOpt; ax.nameLocation = 'middle'; ax.nameRotate = 90; ax.nameGap = 41;
      ax.nameTextStyle = { fontSize: 15, fontFamily: FONT, color: '#000' };
    }
    return ax;
  }

  function idRenderer(ids) {
    return function (params, api) {
      var d = ids[params.dataIndex];
      var up = d[2] === 't';
      var level = up ? 0.86 : 0.745;
      var pt = api.coord([d[0], level]);
      var x = Math.round(pt[0]) + 0.5, y = Math.round(pt[1]);
      var dir = up ? -1 : 1;
      var kids = [];
      if (d[3] != null) {
        var xj = Math.round(api.coord([d[3], level])[0]) + 0.5;
        kids.push({ type: 'polyline', shape: { points: [[xj, y], [xj, y + dir * 3], [x, y + dir * 8], [x, y + dir * 14]] },
          style: { stroke: '#000', lineWidth: 1, fill: null } });
      } else {
        kids.push({ type: 'line', shape: { x1: x, y1: y, x2: x, y2: y + dir * 14 },
          style: { stroke: '#000', lineWidth: d[4] ? 2.5 : 1 } });
      }
      kids.push({ type: 'text', x: x, y: y + dir * 16, rotation: Math.PI / 2,
        style: { text: d[1], fontSize: 11, fontFamily: FONT, fill: '#000', align: up ? 'left' : 'right', verticalAlign: 'middle' } });
      return { type: 'group', children: kids };
    };
  }

  function bracketRenderer(list) {
    return function (params, api) {
      var b = list[params.dataIndex];
      var p1 = api.coord([b[0], 0.723]), p2 = api.coord([b[1], 0.723]);
      var y = Math.round(p1[1]) + 0.5;
      var x1 = Math.round(p1[0]) + 0.5, x2 = Math.round(p2[0]) + 0.5, xm = Math.round((x1 + x2) / 2) + 0.5;
      return { type: 'group', children: [
        { type: 'polyline', shape: { points: [[x1, y - 5], [x1, y], [x2, y], [x2, y - 5]] }, style: { stroke: '#000', lineWidth: 1.5, fill: null } },
        { type: 'line', shape: { x1: xm, y1: y, x2: xm, y2: y + 4 }, style: { stroke: '#000', lineWidth: 1.5 } },
        { type: 'text', x: xm, y: y + 6, rotation: Math.PI / 2,
          style: { text: b[2], fontSize: 11, fontFamily: FONT, fill: '#000', align: 'right', verticalAlign: 'middle' } }
      ] };
    };
  }

  var fluxFmt = function (v) { return v.toFixed(1); };
  var chiFmt = function (v) { return v < 0 ? '\u2212' + (-v) : String(v); };

  var grids = [], xAxes = [], yAxes = [], series = [];
  var xMain = [], yMain = [];
  for (var p = 0; p < 8; p++) {
    var r = rangeP[p];
    var panelTop = 2 + Math.round(170.33 * p);
    var minor = ticksFrom(r[0], r[1], 20), major = ticksFrom(r[0], r[1], 100);
    for (var k = 0; k < 2; k++) {
      var g = 2 * p + k;
      grids.push({ left: 58, right: 22, top: k ? panelTop + 105 : panelTop, height: k ? 37 : 105,
        show: true, borderColor: '#000', borderWidth: 1, outerBoundsMode: 'none' });
      xMain[g] = xAxes.length;
      xAxes.push(xAxisFor(g, r, 'bottom', minor, 4, false));
      xAxes.push(xAxisFor(g, r, 'bottom', major, 8, k === 1, (k === 1 && p === 7) ? 'Wavelength (Å)' : null));
      xAxes.push(xAxisFor(g, r, 'top', minor, 4, false));
      xAxes.push(xAxisFor(g, r, 'top', major, 8, false));
      yMain[g] = yAxes.length;
      if (k === 0) {
        yAxes.push(yAxisFor(g, 'left', 0.5, 1.1, [0.6, 0.8, 1.0], [0.6, 0.8, 1.0], fluxFmt, 'Flux'));
        yAxes.push(yAxisFor(g, 'right', 0.5, 1.1, [0.6, 0.8, 1.0]));
      } else {
        yAxes.push(yAxisFor(g, 'left', -8, 8, [-5, 0, 5], [-5, 5], chiFmt, 'χ'));
        yAxes.push(yAxisFor(g, 'left', -8, 8, null, [0], chiFmt));
        yAxes.push(yAxisFor(g, 'right', -8, 8, [-5, 0, 5]));
      }
    }
    var gf = 2 * p, gc = 2 * p + 1;
    var start = r[0], obs = obss[p];
    var obsData = obs.map(function (v, i) { return [start + i, v]; });
    var chiData = chis[p].map(function (v, i) { return [start + i, v]; });
    // model drawn solid where the spectrum was observed, dashed across masked parts
    var modelSolid = models[p].map(function (pt) {
      var i = Math.round(pt[0] - start);
      return (i >= 0 && i < obs.length && obs[i] != null) ? pt : [pt[0], null];
    });
    series.push({ type: 'line', xAxisIndex: xMain[gf], yAxisIndex: yMain[gf], data: models[p], showSymbol: false, symbol: 'none',
      lineStyle: { color: RED, width: 1.1, type: [6, 3] }, z: 1, silent: true });
    series.push({ type: 'line', xAxisIndex: xMain[gf], yAxisIndex: yMain[gf], data: modelSolid, showSymbol: false, symbol: 'none',
      connectNulls: false, lineStyle: { color: RED, width: 1.3 }, z: 2, silent: true });
    series.push({ type: 'line', xAxisIndex: xMain[gf], yAxisIndex: yMain[gf], data: obsData, showSymbol: false, symbol: 'none',
      connectNulls: false, lineStyle: { color: '#000', width: 1 }, z: 3, silent: true });
    series.push({ type: 'line', xAxisIndex: xMain[gc], yAxisIndex: yMain[gc], data: chiData, showSymbol: false, symbol: 'none',
      connectNulls: false, lineStyle: { color: '#000', width: 1 }, z: 2, silent: true });
    var ids = idss[p];
    series.push({ type: 'custom', xAxisIndex: xMain[gf], yAxisIndex: yMain[gf], clip: false, silent: true, z: 5,
      data: ids.map(function (d) { return [d[0], d[2] === 't' ? 0.86 : 0.745]; }),
      encode: { x: 0, y: 1 }, renderItem: idRenderer(ids) });
    if (brackets[p].length) {
      var bl = brackets[p];
      series.push({ type: 'custom', xAxisIndex: xMain[gf], yAxisIndex: yMain[gf], clip: false, silent: true, z: 5,
        data: bl.map(function (b) { return [(b[0] + b[1]) / 2, 0.723]; }),
        encode: { x: 0, y: 1 }, renderItem: bracketRenderer(bl) });
    }
  }

  var chart = echarts.init(document.getElementById('chart'));
  chart.setOption({
    animation: false,
    backgroundColor: '#fff',
    grid: grids,
    xAxis: xAxes,
    yAxis: yAxes,
    series: series
  });
})();
</script>
</body>
</html>
